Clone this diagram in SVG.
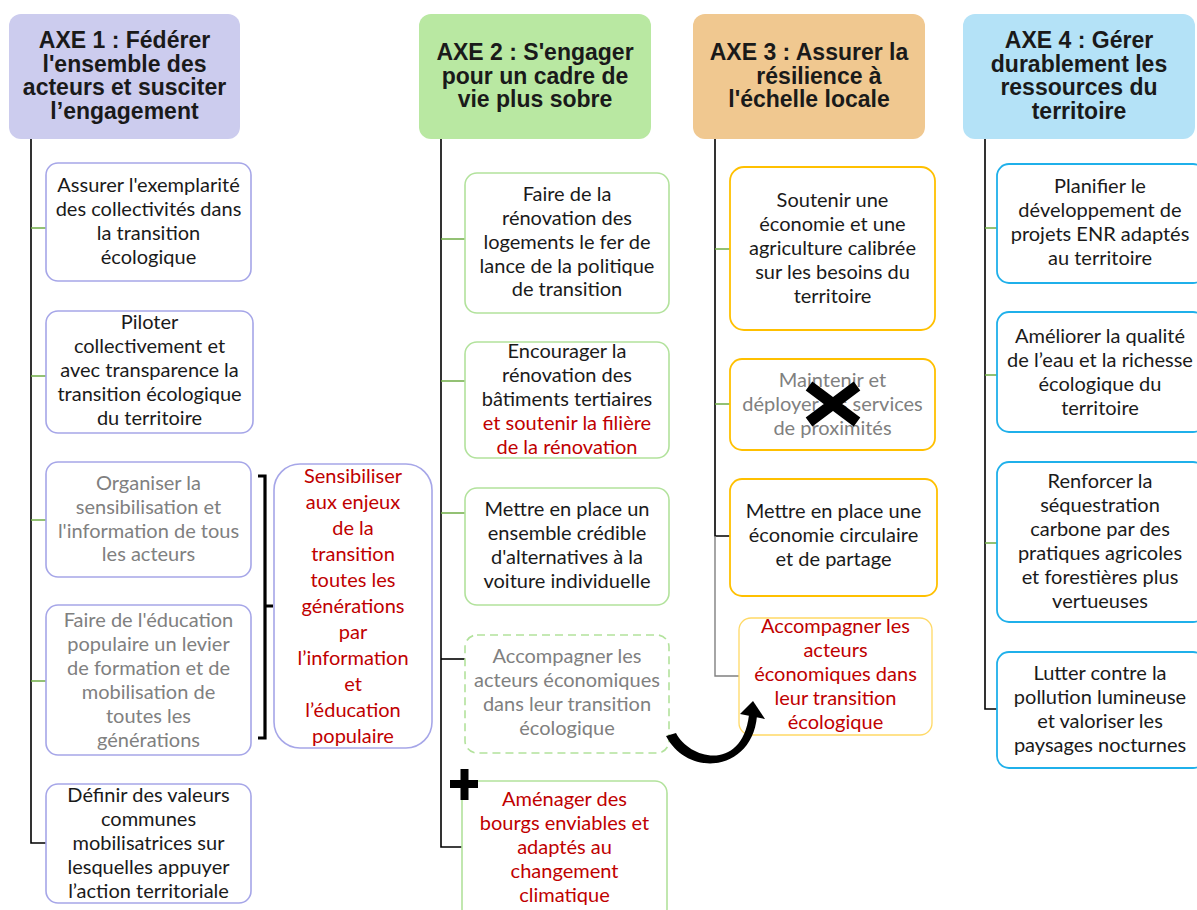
<svg xmlns="http://www.w3.org/2000/svg" width="1197" height="910" viewBox="0 0 1197 910">
<style>
.h{font-family:"Liberation Sans",Arial,sans-serif;font-weight:bold;font-size:23px;text-anchor:middle;fill:#1a1a1a}
.t{font-family:Lato,"Liberation Sans",sans-serif;font-size:20px;text-anchor:middle;fill:#1a1a1a}
.g{fill:#808080}
.r{fill:#c00000}
.b1{fill:#fff;stroke:#a6a6e8;stroke-width:1.6}
.b2{fill:#fff;stroke:#b2e29c;stroke-width:1.6}
.b3{fill:#fff;stroke:#ffc000;stroke-width:1.8}
.b4{fill:#fff;stroke:#1fb0ea;stroke-width:1.8}
.trunk{stroke:#000;stroke-width:1.6;fill:none}
.gr{stroke:#70ad47;stroke-width:1.6;fill:none}
.bk{stroke:#000;stroke-width:1.6;fill:none}
</style>
<rect width="1197" height="910" fill="#fff"/>
<g id="connectors">
<path class="trunk" d="M31,139V843H46"/>
<path class="gr" d="M31,228H46M31,376H46M31,520H46M31,681H46"/>
<path class="trunk" d="M441,139V847H462"/>
<path class="gr" d="M441,239H465M441,381H465M441,513H465"/>
<path class="bk" d="M441,659H465"/>
<path class="trunk" d="M715,139V536H730"/>
<path d="M715,536V676H739" stroke="#808080" stroke-width="1.4" fill="none"/>
<path class="gr" d="M715,249H730M715,404H730"/>
<path class="trunk" d="M985,139V709H997"/>
<path class="gr" d="M985,228H997M985,375H997M985,543H997"/>
<path d="M258,476H265V738H258M265,606H273" stroke="#000" stroke-width="3.2" fill="none"/>
</g>
<g id="axe1">
<rect x="9" y="14" width="231" height="125" rx="12" fill="#ccccee"/>
<text class="h"><tspan x="124.5" y="48">AXE 1 : Fédérer</tspan><tspan x="124.5" y="71.5">l'ensemble des</tspan><tspan x="124.5" y="95">acteurs et susciter</tspan><tspan x="124.5" y="118.5">l’engagement</tspan></text>
</g>
<g id="axe2">
<rect x="419" y="14" width="232" height="125" rx="12" fill="#b9e8a2"/>
<text class="h"><tspan x="535" y="60">AXE 2 : S'engager</tspan><tspan x="535" y="83.5">pour un cadre de</tspan><tspan x="535" y="107">vie plus sobre</tspan></text>
</g>
<g id="axe3">
<rect x="693" y="14" width="232" height="125" rx="12" fill="#f0c890"/>
<text class="h"><tspan x="809" y="60">AXE 3 : Assurer la</tspan><tspan x="819" y="83.5">résilience à</tspan><tspan x="809" y="107">l'échelle locale</tspan></text>
</g>
<g id="axe4">
<rect x="963" y="14" width="232" height="125" rx="12" fill="#b4e2f7"/>
<text class="h"><tspan x="1079" y="48">AXE 4 : Gérer</tspan><tspan x="1079" y="71.5">durablement les</tspan><tspan x="1079" y="95">ressources du</tspan><tspan x="1079" y="118.5">territoire</tspan></text>
</g>
<g id="a1n1">
<rect class="b1" x="46" y="163" width="205" height="118" rx="12"/>
<text class="t"><tspan x="148.5" y="192">Assurer l'exemplarité</tspan><tspan x="148.5" y="216">des collectivités dans</tspan><tspan x="148.5" y="240">la transition</tspan><tspan x="148.5" y="264">écologique</tspan></text>
</g>
<g id="a1n2">
<rect class="b1" x="46" y="311" width="207" height="122" rx="12"/>
<text class="t"><tspan x="149.5" y="329">Piloter</tspan><tspan x="149.5" y="353">collectivement et</tspan><tspan x="149.5" y="377">avec transparence la</tspan><tspan x="149.5" y="401">transition écologique</tspan><tspan x="149.5" y="425">du territoire</tspan></text>
</g>
<g id="a1n3">
<rect class="b1" x="46" y="462" width="205" height="115" rx="12"/>
<text class="t g"><tspan x="148.5" y="490">Organiser la</tspan><tspan x="148.5" y="514">sensibilisation et</tspan><tspan x="148.5" y="538">l'information de tous</tspan><tspan x="148.5" y="561">les acteurs</tspan></text>
</g>
<g id="a1n4">
<rect class="b1" x="46" y="605" width="205" height="150" rx="12"/>
<text class="t g"><tspan x="148.5" y="627">Faire de l'éducation</tspan><tspan x="148.5" y="651">populaire un levier</tspan><tspan x="148.5" y="675">de formation et de</tspan><tspan x="148.5" y="699">mobilisation de</tspan><tspan x="148.5" y="723">toutes les</tspan><tspan x="148.5" y="747">générations</tspan></text>
</g>
<g id="a1n5">
<rect class="b1" x="46" y="784" width="205" height="119" rx="12"/>
<text class="t"><tspan x="148.5" y="802">Définir des valeurs</tspan><tspan x="148.5" y="826">communes</tspan><tspan x="148.5" y="850">mobilisatrices sur</tspan><tspan x="148.5" y="874">lesquelles appuyer</tspan><tspan x="148.5" y="898">l’action territoriale</tspan></text>
</g>
<g id="a1sens">
<rect class="b1" x="274" y="464" width="158" height="284" rx="26"/>
<text class="t r"><tspan x="353" y="483">Sensibiliser</tspan><tspan x="353" y="509">aux enjeux</tspan><tspan x="353" y="535">de la</tspan><tspan x="353" y="561">transition</tspan><tspan x="353" y="587">toutes les</tspan><tspan x="353" y="613">générations</tspan><tspan x="353" y="639">par</tspan><tspan x="353" y="665">l’information</tspan><tspan x="353" y="691">et</tspan><tspan x="353" y="717">l’éducation</tspan><tspan x="353" y="743">populaire</tspan></text>
</g>
<g id="a2n1">
<rect class="b2" x="465" y="173" width="204" height="140" rx="12"/>
<text class="t"><tspan x="567" y="201">Faire de la</tspan><tspan x="567" y="225">rénovation des</tspan><tspan x="567" y="249">logements le fer de</tspan><tspan x="567" y="273">lance de la politique</tspan><tspan x="567" y="296">de transition</tspan></text>
</g>
<g id="a2n2">
<rect class="b2" x="465" y="342" width="204" height="116" rx="12"/>
<text class="t"><tspan x="567" y="358">Encourager la</tspan><tspan x="567" y="382">rénovation des</tspan><tspan x="567" y="406">bâtiments tertiaires</tspan><tspan x="567" y="430" class="r">et soutenir la filière</tspan><tspan x="567" y="454" class="r">de la rénovation</tspan></text>
</g>
<g id="a2n3">
<rect class="b2" x="465" y="488" width="204" height="117" rx="12"/>
<text class="t"><tspan x="567" y="516">Mettre en place un</tspan><tspan x="567" y="540">ensemble crédible</tspan><tspan x="567" y="564">d'alternatives à la</tspan><tspan x="567" y="588">voiture individuelle</tspan></text>
</g>
<g id="a2n4">
<rect x="465" y="635" width="204" height="118" rx="12" fill="#fff" stroke="#b2e29c" stroke-width="1.6" stroke-dasharray="8,5"/>
<text class="t g"><tspan x="567" y="663">Accompagner les</tspan><tspan x="567" y="687">acteurs économiques</tspan><tspan x="567" y="711">dans leur transition</tspan><tspan x="567" y="735">écologique</tspan></text>
</g>
<g id="a2n5">
<rect class="b2" x="462" y="781" width="205" height="140" rx="12"/>
<text class="t r"><tspan x="564.5" y="806">Aménager des</tspan><tspan x="564.5" y="830">bourgs enviables et</tspan><tspan x="564.5" y="854">adaptés au</tspan><tspan x="564.5" y="878">changement</tspan><tspan x="564.5" y="902">climatique</tspan></text>
<path d="M450,784H478M464.5,769V800" stroke="#000" stroke-width="8" fill="none"/>
</g>
<g id="a3n1">
<rect class="b3" x="730" y="167" width="205" height="163" rx="14"/>
<text class="t"><tspan x="832.5" y="207">Soutenir une</tspan><tspan x="832.5" y="231">économie et une</tspan><tspan x="832.5" y="255">agriculture calibrée</tspan><tspan x="832.5" y="279">sur les besoins du</tspan><tspan x="832.5" y="303">territoire</tspan></text>
</g>
<g id="a3n2">
<rect class="b3" x="730" y="359" width="205" height="91" rx="12"/>
<text class="t g"><tspan x="832.5" y="387">Maintenir et</tspan><tspan x="832.5" y="411">déployer les services</tspan><tspan x="832.5" y="435">de proximités</tspan></text>
<path d="M809,386L857,422M857,386L809,422" stroke="#000" stroke-width="11" fill="none"/>
</g>
<g id="a3n3">
<rect class="b3" x="730" y="479" width="207" height="117" rx="12"/>
<text class="t"><tspan x="833.5" y="518">Mettre en place une</tspan><tspan x="833.5" y="542">économie circulaire</tspan><tspan x="833.5" y="566">et de partage</tspan></text>
</g>
<g id="a3n4">
<rect x="739" y="618" width="193" height="117" rx="12" fill="#fff" stroke="#ffd966" stroke-width="1.3"/>
<text class="t r"><tspan x="835.5" y="633">Accompagner les</tspan><tspan x="835.5" y="657">acteurs</tspan><tspan x="835.5" y="681">économiques dans</tspan><tspan x="835.5" y="705">leur transition</tspan><tspan x="835.5" y="729">écologique</tspan></text>
</g>
<g id="a4n1">
<rect class="b4" x="997" y="164" width="208" height="119" rx="12"/>
<text class="t"><tspan x="1100" y="193">Planifier le</tspan><tspan x="1100" y="217">développement de</tspan><tspan x="1100" y="241">projets ENR adaptés</tspan><tspan x="1100" y="265">au territoire</tspan></text>
</g>
<g id="a4n2">
<rect class="b4" x="997" y="312" width="208" height="120" rx="12"/>
<text class="t"><tspan x="1100" y="343">Améliorer la qualité</tspan><tspan x="1100" y="367">de l’eau et la richesse</tspan><tspan x="1100" y="391">écologique du</tspan><tspan x="1100" y="415">territoire</tspan></text>
</g>
<g id="a4n3">
<rect class="b4" x="997" y="462" width="208" height="160" rx="12"/>
<text class="t"><tspan x="1100" y="488">Renforcer la</tspan><tspan x="1100" y="512">séquestration</tspan><tspan x="1100" y="536">carbone par des</tspan><tspan x="1100" y="560">pratiques agricoles</tspan><tspan x="1100" y="584">et forestières plus</tspan><tspan x="1100" y="608">vertueuses</tspan></text>
</g>
<g id="a4n4">
<rect class="b4" x="997" y="652" width="208" height="116" rx="12"/>
<text class="t"><tspan x="1100" y="680">Lutter contre la</tspan><tspan x="1100" y="704">pollution lumineuse</tspan><tspan x="1100" y="728">et valoriser les</tspan><tspan x="1100" y="752">paysages nocturnes</tspan></text>
</g>
<g id="move-arrow">
<path d="M666,736L676,733C690,760 742,772 749,715L757,716C752,772 688,778 666,736Z" fill="#000"/>
<polygon points="753,701 765,719 740,714" fill="#000"/>
</g>
</svg>
